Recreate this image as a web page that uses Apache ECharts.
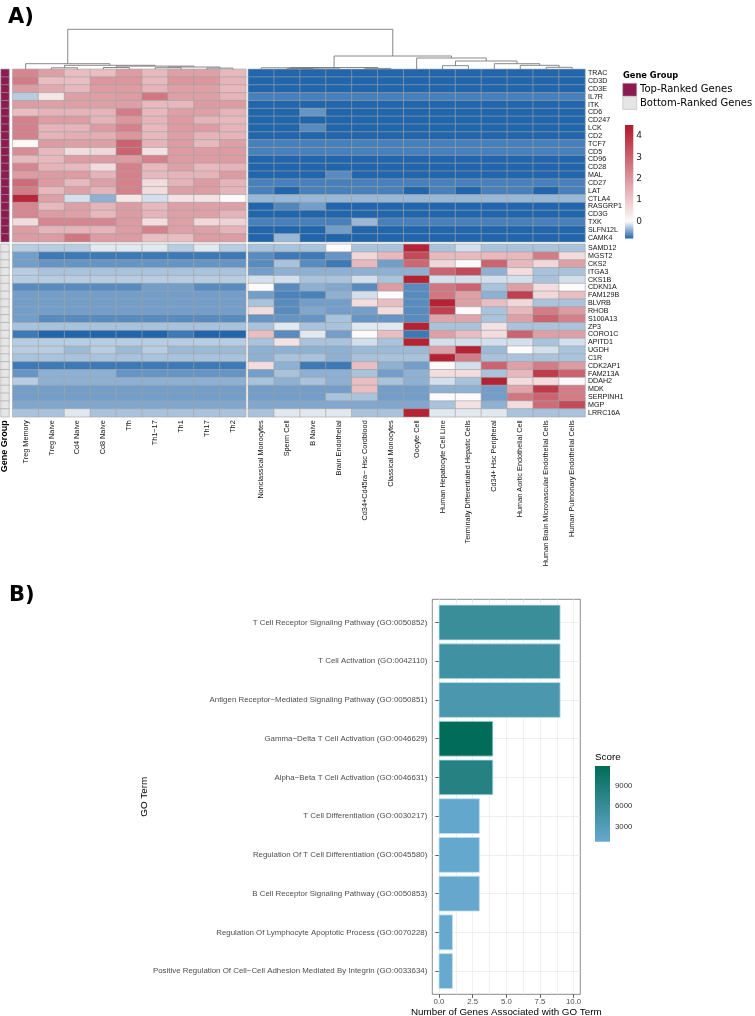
<!DOCTYPE html>
<html><head><meta charset="utf-8">
<script src="https://cdn.jsdelivr.net/npm/echarts@6/dist/echarts.min.js"></script>
<style>html,body{margin:0;padding:0;background:#fff}#c{width:755px;height:1016px}</style>
</head><body><div id="c"></div>
<script>
// ---------------- DATA ----------------
const tCellColumns = ['Treg Memory','Treg Naive','Cd4 Naive','Cd8 Naive','Tfh','Th1\u221217','Th1','Th17','Th2'];
const otherColumns = ['Nonclassical Monocytes','Sperm Cell','B Naive','Brain Endothelial','Cd34+Cd45ra\u2212 Hsc Cordblood','Classical Monocytes','Oocyte Cell','Human Hepatocyte Cell Line','Terminally Differentiated Hepatic Cells','Cd34+ Hsc Peripheral','Human Aortic Endothelial Cell','Human Brain Microvascular Endothelial Cells','Human Pulmonary Endothelial Cells'];
const topGenes = ['TRAC','CD3D','CD3E','IL7R','ITK','CD6','CD247','LCK','CD2','TCF7','CD5','CD96','CD28','MAL','CD27','LAT','CTLA4','RASGRP1','CD3G','TXK','SLFN12L','CAMK4'];
const bottomGenes = ['SAMD12','MGST2','CKS2','ITGA3','CKS1B','CDKN1A','FAM129B','BLVRB','RHOB','S100A13','ZP3','CORO1C','APITD1','UGDH','C1R','CDK2AP1','FAM213A','DDAH2','MDK','SERPINH1','MGP','LRRC16A'];
const geneGroups = ['Top-Ranked Genes','Bottom-Ranked Genes'];

// top genes x T-cell columns
const topLeft = [
 [2.3,1.8,1.2,1.2,1.9,1.3,1.8,1.8,1.3],
 [2.5,1.2,1.2,2.0,2.0,1.3,2.0,2.0,1.4],
 [1.9,1.6,1.3,1.9,1.9,1.4,1.8,1.8,1.3],
 [-0.25,0.4,1.8,1.8,1.9,2.6,1.8,1.8,1.4],
 [1.9,1.8,1.8,1.8,1.8,1.3,1.3,1.9,1.9],
 [1.2,1.4,1.4,1.4,2.5,1.3,1.8,1.8,1.4],
 [2.4,1.9,1.9,1.4,2.0,1.4,1.9,1.4,1.3],
 [2.4,1.4,1.4,1.9,2.4,1.3,1.9,1.9,1.4],
 [2.4,1.4,1.5,1.5,2.0,1.3,1.8,1.4,1.4],
 [0.05,1.9,1.8,1.8,3.0,1.4,1.9,1.3,1.8],
 [2.2,1.3,0.6,0.7,3.0,0.5,1.9,1.9,1.9],
 [1.3,1.3,1.9,1.9,1.9,2.4,1.9,1.9,1.9],
 [2.3,1.4,1.3,0.6,2.4,1.3,1.8,1.3,1.4],
 [1.9,1.9,1.9,1.4,2.4,1.3,1.4,1.4,1.9],
 [2.8,1.9,1.3,1.8,2.4,0.6,1.4,1.9,1.4],
 [2.5,1.3,1.8,1.4,2.4,0.6,1.8,1.9,1.4],
 [4.2,1.8,-0.15,-0.4,0.4,-0.15,0.5,0.5,0.0],
 [2.3,1.3,1.8,1.4,1.9,1.3,1.8,1.8,1.8],
 [2.3,1.9,1.8,1.3,1.9,1.4,1.8,1.8,1.4],
 [0.6,2.3,2.3,2.3,1.9,0.6,1.8,0.7,0.8],
 [1.9,1.4,1.4,1.4,1.9,2.4,1.8,1.8,1.4],
 [1.9,1.9,2.6,1.9,1.9,1.2,1.2,1.9,1.9]
];
// top genes x other columns
const topRight = [
 [-0.8,-0.8,-0.8,-0.8,-0.8,-0.8,-0.8,-0.8,-0.8,-0.8,-0.8,-0.8,-0.8],
 [-0.8,-0.8,-0.8,-0.8,-0.8,-0.8,-0.8,-0.8,-0.8,-0.8,-0.8,-0.8,-0.8],
 [-0.8,-0.8,-0.8,-0.8,-0.8,-0.8,-0.8,-0.8,-0.8,-0.8,-0.8,-0.8,-0.8],
 [-0.66,-0.66,-0.66,-0.66,-0.66,-0.66,-0.66,-0.66,-0.66,-0.66,-0.66,-0.66,-0.66],
 [-0.8,-0.8,-0.8,-0.8,-0.8,-0.8,-0.8,-0.8,-0.8,-0.8,-0.8,-0.8,-0.8],
 [-0.8,-0.8,-0.55,-0.8,-0.8,-0.8,-0.8,-0.8,-0.8,-0.8,-0.8,-0.8,-0.8],
 [-0.8,-0.8,-0.8,-0.8,-0.8,-0.8,-0.8,-0.8,-0.8,-0.8,-0.8,-0.8,-0.8],
 [-0.8,-0.8,-0.6,-0.8,-0.8,-0.8,-0.8,-0.8,-0.8,-0.8,-0.8,-0.8,-0.8],
 [-0.8,-0.8,-0.8,-0.8,-0.8,-0.8,-0.8,-0.8,-0.8,-0.8,-0.8,-0.8,-0.8],
 [-0.66,-0.66,-0.66,-0.66,-0.66,-0.66,-0.66,-0.66,-0.66,-0.66,-0.66,-0.66,-0.66],
 [-0.66,-0.66,-0.66,-0.66,-0.66,-0.66,-0.66,-0.66,-0.66,-0.66,-0.66,-0.66,-0.66],
 [-0.8,-0.8,-0.8,-0.8,-0.8,-0.8,-0.8,-0.8,-0.8,-0.8,-0.8,-0.8,-0.8],
 [-0.8,-0.8,-0.8,-0.8,-0.8,-0.8,-0.8,-0.8,-0.8,-0.8,-0.8,-0.8,-0.8],
 [-0.8,-0.8,-0.8,-0.6,-0.8,-0.8,-0.8,-0.8,-0.8,-0.8,-0.8,-0.8,-0.8],
 [-0.66,-0.66,-0.66,-0.66,-0.66,-0.66,-0.66,-0.66,-0.66,-0.66,-0.66,-0.66,-0.66],
 [-0.66,-0.8,-0.66,-0.66,-0.66,-0.66,-0.8,-0.66,-0.8,-0.66,-0.66,-0.8,-0.66],
 [-0.36,-0.36,-0.36,-0.36,-0.36,-0.36,-0.36,-0.36,-0.36,-0.36,-0.36,-0.36,-0.36],
 [-0.8,-0.62,-0.5,-0.8,-0.8,-0.8,-0.8,-0.8,-0.8,-0.8,-0.8,-0.8,-0.8],
 [-0.8,-0.8,-0.8,-0.8,-0.8,-0.8,-0.8,-0.8,-0.8,-0.8,-0.8,-0.8,-0.8],
 [-0.66,-0.66,-0.66,-0.66,-0.36,-0.66,-0.66,-0.66,-0.66,-0.66,-0.66,-0.66,-0.66],
 [-0.8,-0.8,-0.8,-0.5,-0.8,-0.8,-0.8,-0.8,-0.8,-0.8,-0.8,-0.8,-0.8],
 [-0.8,-0.36,-0.8,-0.8,-0.8,-0.8,-0.8,-0.8,-0.8,-0.8,-0.8,-0.8,-0.8]
];
// bottom genes x T-cell columns
const bottomLeft = [
 [-0.25,-0.25,-0.25,-0.1,-0.1,-0.1,-0.25,-0.1,-0.25],
 [-0.5,-0.7,-0.7,-0.7,-0.7,-0.7,-0.7,-0.7,-0.7],
 [-0.5,-0.55,-0.55,-0.55,-0.55,-0.55,-0.55,-0.55,-0.55],
 [-0.25,-0.3,-0.3,-0.3,-0.3,-0.3,-0.3,-0.3,-0.3],
 [-0.25,-0.25,-0.25,-0.25,-0.25,-0.25,-0.25,-0.25,-0.25],
 [-0.6,-0.6,-0.6,-0.6,-0.6,-0.5,-0.5,-0.6,-0.6],
 [-0.5,-0.5,-0.5,-0.5,-0.5,-0.5,-0.5,-0.5,-0.5],
 [-0.5,-0.5,-0.5,-0.5,-0.5,-0.5,-0.5,-0.5,-0.5],
 [-0.5,-0.5,-0.5,-0.5,-0.5,-0.5,-0.5,-0.5,-0.5],
 [-0.5,-0.6,-0.6,-0.6,-0.6,-0.6,-0.6,-0.6,-0.6],
 [-0.3,-0.3,-0.3,-0.3,-0.3,-0.3,-0.3,-0.3,-0.3],
 [-0.7,-0.8,-0.8,-0.8,-0.8,-0.8,-0.7,-0.8,-0.8],
 [-0.25,-0.25,-0.25,-0.25,-0.25,-0.25,-0.25,-0.25,-0.25],
 [-0.25,-0.25,-0.35,-0.25,-0.35,-0.25,-0.35,-0.35,-0.35],
 [-0.3,-0.3,-0.3,-0.3,-0.3,-0.3,-0.3,-0.3,-0.3],
 [-0.7,-0.7,-0.7,-0.7,-0.7,-0.7,-0.7,-0.7,-0.7],
 [-0.55,-0.4,-0.4,-0.4,-0.55,-0.55,-0.55,-0.55,-0.55],
 [-0.25,-0.4,-0.4,-0.4,-0.4,-0.4,-0.4,-0.4,-0.4],
 [-0.5,-0.5,-0.5,-0.5,-0.5,-0.5,-0.5,-0.5,-0.5],
 [-0.5,-0.5,-0.5,-0.5,-0.5,-0.5,-0.5,-0.5,-0.5],
 [-0.45,-0.45,-0.45,-0.45,-0.45,-0.45,-0.45,-0.45,-0.45],
 [-0.3,-0.3,-0.1,-0.3,-0.3,-0.3,-0.3,-0.3,-0.3]
];
// bottom genes x other columns
const bottomRight = [
 [-0.3,-0.3,-0.3,0.0,-0.3,-0.3,4.3,-0.3,-0.15,-0.3,-0.3,-0.3,-0.3],
 [-0.6,-0.7,-0.7,-0.55,0.7,1.3,3.5,1.3,1.3,1.3,1.3,2.5,0.6],
 [-0.6,-0.3,-0.6,-0.7,1.3,-0.5,2.9,0.7,0.0,3.0,1.3,0.7,1.8],
 [-0.5,-0.4,-0.4,-0.4,-0.4,-0.4,-0.4,3.0,3.5,-0.4,0.6,-0.3,-0.3],
 [-0.15,-0.15,-0.3,-0.3,-0.15,-0.3,4.3,-0.15,-0.15,-0.15,-0.15,-0.3,-0.15],
 [0.0,-0.6,-0.4,-0.45,-0.6,1.9,-0.6,2.6,3.0,-0.3,1.8,0.6,0.0],
 [-0.5,-0.65,-0.65,-0.4,-0.15,0.0,-0.6,2.6,1.8,-0.4,3.7,0.7,1.2],
 [-0.3,-0.6,-0.5,-0.5,0.6,1.2,-0.6,4.3,1.8,1.2,0.7,-0.3,-0.3],
 [0.6,-0.6,-0.45,-0.5,-0.5,0.6,-0.6,3.7,0.0,-0.3,1.3,2.5,1.9],
 [-0.55,-0.55,-0.55,-0.3,-0.55,-0.55,-0.6,1.7,1.7,-0.3,1.8,3.0,2.4],
 [-0.3,-0.1,-0.3,-0.3,-0.1,-0.1,4.3,-0.3,-0.3,0.5,-0.3,-0.3,-0.3],
 [1.2,-0.6,-0.1,-0.5,0.0,1.2,-0.7,1.8,1.2,0.6,3.0,1.8,1.8],
 [-0.3,0.5,-0.3,-0.3,-0.15,-0.3,4.3,-0.15,-0.15,-0.15,-0.15,-0.3,-0.15],
 [-0.4,-0.4,-0.4,-0.4,-0.35,-0.35,-0.35,1.8,4.3,-0.35,0.0,-0.15,-0.3],
 [-0.4,-0.3,-0.3,-0.4,-0.3,-0.3,-0.3,4.3,2.5,-0.3,-0.3,-0.3,-0.3],
 [0.6,-0.4,-0.7,-0.7,1.2,-0.4,-0.5,0.0,-0.15,3.0,1.8,2.5,1.9],
 [-0.5,-0.3,-0.4,-0.4,-0.3,-0.5,-0.4,0.6,0.6,-0.3,1.3,3.8,3.0],
 [-0.3,-0.4,-0.3,-0.4,1.2,-0.3,-0.4,-0.15,-0.3,4.3,0.6,0.6,0.0],
 [-0.5,-0.5,-0.5,-0.5,1.2,-0.5,-0.5,-0.4,-0.4,-0.5,1.7,3.8,2.5],
 [-0.5,-0.5,-0.5,-0.3,-0.3,-0.5,-0.5,0.0,0.0,-0.5,2.6,3.0,2.5],
 [-0.45,-0.45,-0.45,-0.45,-0.45,-0.45,-0.45,-0.3,0.5,-0.4,0.6,2.8,3.5],
 [-0.3,-0.1,-0.1,-0.1,-0.3,-0.3,4.3,-0.1,-0.1,-0.1,-0.3,-0.3,-0.3]
];
const heatTicks = [0,1,2,3,4];
const heatMin = -0.8, heatMax = 4.5;

// column dendrogram (leaf index 0..21 = tCellColumns then otherColumns; node n>=22 = merge n-22): [a, b, height]
const colMerges = [
 [1,2,1.5],[7,8,1.2],[5,6,1.6],[24,23,2.3],[3,4,1.8],[26,25,3.2],[22,27,4.0],[0,28,5.6],
 [10,11,0.8],[30,12,1.2],[9,31,1.5],[13,14,0.9],[32,33,1.8],[16,17,3.6],[20,21,2.0],
 [19,36,4.0],[18,37,5.6],[35,38,8.3],[15,39,11.3],[34,40,13.3],[29,41,40]
];

// Panel B
const goTerms = [
 'T Cell Receptor Signaling Pathway (GO:0050852)',
 'T Cell Activation (GO:0042110)',
 'Antigen Receptor\u2212Mediated Signaling Pathway (GO:0050851)',
 'Gamma\u2212Delta T Cell Activation (GO:0046629)',
 'Alpha\u2212Beta T Cell Activation (GO:0046631)',
 'T Cell Differentiation (GO:0030217)',
 'Regulation Of T Cell Differentiation (GO:0045580)',
 'B Cell Receptor Signaling Pathway (GO:0050853)',
 'Regulation Of Lymphocyte Apoptotic Process (GO:0070228)',
 'Positive Regulation Of Cell\u2212Cell Adhesion Mediated By Integrin (GO:0033634)'
];
const geneCounts = [9,9,9,4,4,3,3,3,1,1];
const goScores = [5800,5000,3900,11900,8000,1100,1000,950,900,800];
const countTicks = [0,2.5,5,7.5,10];
const countMinorGrid = [0,1.25,2.5,3.75,5,6.25,7.5,8.75,10];
const scoreTicks = [3000,6000,9000];
const scoreMin = 800, scoreMax = 11900;

// ---------------- LAYOUT / STYLE ----------------
const CELL = 25.9, ROWH = 7.84;
const X_LEFT = 12.7, X_RIGHT = 248.3, Y_TOP = 69.3, Y_BOT = 244.3;
const BLUE = [33,102,172], WHITE = [252,250,250], RED = [178,24,43];
const GROUP_COLORS = ['#8C1B52','#E5E5E5'];
const SCORE_COLORS = ['#67a9cf','#016c59'];
const FONT = 'Liberation Sans';

function mix(a,b,t){return 'rgb('+a.map((v,i)=>Math.round(v+(b[i]-v)*t)).join(',')+')';}
function heatColor(v){
  if (v < 0) return mix(WHITE, BLUE, Math.min(1, -v/ -heatMin));
  return mix(WHITE, RED, Math.min(1, v/heatMax));
}
const heatStops = [];
for (let k = 0; k <= 53; k++) heatStops.push(heatColor(heatMin + k*(heatMax-heatMin)/53));

function cells(mat){const d=[];mat.forEach((row,r)=>row.forEach((v,c)=>d.push([c,r,v])));return d;}

// dendrogram geometry from merges (via axis units = cell widths)
const gapUnits = (X_RIGHT - X_LEFT)/CELL - tCellColumns.length;
const nLeaves = tCellColumns.length + otherColumns.length;
const nodeX = [], nodeH = [];
for (let i=0;i<nLeaves;i++){ nodeX.push(i < tCellColumns.length ? i+0.5 : i+0.5+gapUnits); nodeH.push(0); }
const dendroData = colMerges.map(([a,b,h])=>{
  const item = [nodeX[a], nodeH[a], nodeX[b], nodeH[b], h];
  nodeX.push((nodeX[a]+nodeX[b])/2); nodeH.push(h);
  return item;
});
const dendroMaxUnits = nLeaves + gapUnits;

const hmW = n => n*CELL, hmH = n => n*ROWH;
const G = (o)=>Object.assign({outerBoundsMode:'none', containLabel:false}, o);

const grids = [
  G({left:X_LEFT, top:Y_TOP, width:hmW(9), height:hmH(22)}),          //0 TL
  G({left:X_RIGHT, top:Y_TOP, width:hmW(13), height:hmH(22)}),        //1 TR
  G({left:X_LEFT, top:Y_BOT, width:hmW(9), height:hmH(22)}),          //2 BL
  G({left:X_RIGHT, top:Y_BOT, width:hmW(13), height:hmH(22)}),        //3 BR
  G({left:1, top:Y_TOP, width:8, height:hmH(22)}),                    //4 ann top
  G({left:1, top:Y_BOT, width:8, height:hmH(22)}),                    //5 ann bottom
  G({left:X_LEFT, top:29.3, width:X_RIGHT+hmW(13)-X_LEFT, height:40}),//6 dendro
  G({left:625, top:125.1, width:8.3, height:113.4}),                  //7 heat legend
  G({left:432.3, top:599.3, width:148, height:395, show:true, borderColor:'#6f6f6f', borderWidth:0.8, backgroundColor:'#fff'}), //8 bars
  G({left:595, top:766, width:15, height:75.7})                       //9 score legend
];

const hid = {show:false};
const LBL = 7.3;
const catX = (gi, data, showLabels) => ({type:'category', gridIndex:gi, data:data, position:'bottom',
  axisLine:hid, axisTick:hid, splitLine:hid,
  axisLabel:{show:showLabels, interval:0, rotate:90, fontSize:LBL, color:'#111', margin:3.5, fontFamily:FONT}});
const catY = (gi, data, showLabels) => ({type:'category', gridIndex:gi, data:data, inverse:true, position:'right',
  axisLine:hid, axisTick:hid, splitLine:hid,
  axisLabel:{show:showLabels, interval:0, fontSize:7.1, color:'#111', margin:3, fontFamily:FONT}});

const xAxes = [
  catX(0, tCellColumns, false), catX(1, otherColumns, false),
  catX(2, tCellColumns, true), catX(3, otherColumns, true),
  catX(4, ['Gene Group'], false),
  Object.assign(catX(5, ['Gene Group'], true), {axisLabel:{show:true, rotate:90, fontSize:9, fontWeight:'bold', color:'#000', margin:3.5, fontFamily:FONT}}),
  {type:'value', gridIndex:6, min:0, max:dendroMaxUnits, show:false},
  {type:'value', gridIndex:7, min:0, max:1, show:false},
  {type:'value', gridIndex:8, min:-0.5, max:10.5, position:'bottom',
   axisLine:hid, axisTick:{show:false, customValues:countMinorGrid},
   axisLabel:{show:false}, splitLine:{show:true, lineStyle:{color:'#ebebeb', width:0.8}},
   name:'Number of Genes Associated with GO Term', nameLocation:'middle', nameGap:13,
   nameTextStyle:{fontSize:9.8, color:'#000', fontFamily:FONT}},
  {type:'value', gridIndex:8, min:-0.5, max:10.5, position:'bottom',
   axisLine:hid, splitLine:hid,
   axisTick:{show:true, customValues:countTicks, length:3.5, lineStyle:{color:'#333', width:0.8}},
   axisLabel:{show:true, customValues:countTicks, formatter:v=>v.toFixed(1), fontSize:7.8, color:'#4d4d4d', margin:4, fontFamily:FONT}},
  {type:'value', gridIndex:9, min:0, max:1, show:false}
];
const yAxes = [
  catY(0, topGenes, false), catY(1, topGenes, true),
  catY(2, bottomGenes, false), catY(3, bottomGenes, true),
  catY(4, topGenes, false), catY(5, bottomGenes, false),
  {type:'value', gridIndex:6, min:0, max:40, show:false},
  {type:'value', gridIndex:7, min:heatMin, max:heatMax, position:'right', axisLine:hid, axisTick:hid, splitLine:hid,
   axisLabel:{customValues:heatTicks, fontSize:9, color:'#222', margin:3, fontFamily:'DejaVu Sans'}},
  {type:'value', gridIndex:8, min:-0.6, max:9.6, inverse:true, position:'left', axisLine:hid,
   axisTick:{show:true, customValues:goTerms.map((t,i)=>i), length:3.5, lineStyle:{color:'#333', width:0.8}},
   axisLabel:{customValues:goTerms.map((t,i)=>i), formatter:v=>goTerms[Math.round(v)], fontSize:7.9, color:'#4d4d4d', margin:5, fontFamily:FONT},
   splitLine:{show:true, lineStyle:{color:'#ebebeb', width:0.8}},
   name:'GO Term', nameLocation:'middle', nameGap:281, nameRotate:90,
   nameTextStyle:{fontSize:9.8, color:'#000', fontFamily:FONT}},
  {type:'value', gridIndex:9, min:scoreMin, max:scoreMax, position:'right', axisLine:hid, splitLine:hid,
   axisTick:{show:true, inside:true, length:3, customValues:scoreTicks, lineStyle:{color:'#fff', width:1}},
   axisLabel:{customValues:scoreTicks, formatter:v=>String(v), fontSize:7.8, color:'#333', margin:5, fontFamily:FONT}},
  {type:'value', gridIndex:9, min:scoreMin, max:scoreMax, position:'left', axisLine:hid, splitLine:hid,
   axisTick:{show:true, inside:true, length:3, customValues:scoreTicks, lineStyle:{color:'#fff', width:1}},
   axisLabel:{show:false}}
];

const hmStyle = {borderColor:'#a3a3a3', borderWidth:0.6};
const hm = (i) => ({type:'heatmap', xAxisIndex:i, yAxisIndex:i, data:cells([topLeft,topRight,bottomLeft,bottomRight][i]),
  itemStyle:hmStyle, emphasis:{disabled:true}, progressive:0, silent:true});

function gradientBar(colorsTopToBottom, offsets){
  return function(params, api){
    const a = api.coord([0, api.value(1)]), b = api.coord([1, api.value(0)]);
    return {type:'rect', shape:{x:a[0], y:a[1], width:b[0]-a[0], height:b[1]-a[1]},
      style:{fill:new echarts.graphic.LinearGradient(0,0,0,1, colorsTopToBottom.map((c,i)=>({offset:offsets[i], color:c})))}};
  };
}

const series = [
  hm(0), hm(1), hm(2), hm(3),
  {type:'heatmap', xAxisIndex:4, yAxisIndex:4, data:topGenes.map((g,r)=>[0,r,1]), itemStyle:{color:GROUP_COLORS[0], borderColor:'#a3a3a3', borderWidth:0.6}, emphasis:{disabled:true}, silent:true},
  {type:'heatmap', xAxisIndex:5, yAxisIndex:5, data:bottomGenes.map((g,r)=>[0,r,2]), itemStyle:{color:GROUP_COLORS[1], borderColor:'#a3a3a3', borderWidth:0.6}, emphasis:{disabled:true}, silent:true},
  {type:'custom', xAxisIndex:6, yAxisIndex:6, data:dendroData, encode:{x:[0,2], y:[1,3,4]}, silent:true,
   renderItem:function(params, api){
     const p1 = api.coord([api.value(0), api.value(1)]), p2 = api.coord([api.value(0), api.value(4)]);
     const p3 = api.coord([api.value(2), api.value(4)]), p4 = api.coord([api.value(2), api.value(3)]);
     return {type:'polyline', shape:{points:[p1,p2,p3,p4]}, style:{stroke:'#7a7a7a', lineWidth:0.9, fill:null}};
   }},
  {type:'custom', xAxisIndex:7, yAxisIndex:7, data:[[heatMin, heatMax]], silent:true,
   renderItem:gradientBar([heatColor(heatMax), heatColor(0), heatColor(heatMin)], [0, heatMax/(heatMax-heatMin), 1])},
  {type:'custom', xAxisIndex:8, yAxisIndex:8, data:goTerms.map((t,i)=>[geneCounts[i], i, goScores[i]]), encode:{x:0, y:1}, silent:true,
   renderItem:function(params, api){
     const i = api.value(1), n = api.value(0);
     const a = api.coord([0, i-0.45]), b = api.coord([n, i+0.45]);
     return {type:'rect', shape:{x:a[0], y:Math.min(a[1],b[1]), width:b[0]-a[0], height:Math.abs(b[1]-a[1])},
       style:{fill:api.visual('color'), stroke:'#bfe0ee', lineWidth:0.8}};
   }},
  {type:'custom', xAxisIndex:10, yAxisIndex:9, data:[[scoreMin, scoreMax]], silent:true,
   renderItem:gradientBar([SCORE_COLORS[1], SCORE_COLORS[0]], [0,1])}
];

const txt = (x,y,text,size,weight,family,va) => ({type:'text', x:x, y:y, silent:true,
  style:{text:text, fontSize:size, fontWeight:weight||'normal', fontFamily:family||FONT, fill:'#000', verticalAlign:va||'middle', align:'left'}});

const option = {
  animation:false,
  textStyle:{fontFamily:FONT},
  grid:grids, xAxis:xAxes, yAxis:yAxes, series:series,
  visualMap:[
    {type:'continuous', show:false, min:heatMin, max:heatMax, dimension:2, seriesIndex:[0,1,2,3], inRange:{color:heatStops}},
    {type:'continuous', show:false, min:scoreMin, max:scoreMax, dimension:2, seriesIndex:[8], inRange:{color:SCORE_COLORS}}
  ],
  graphic:[
    txt(8, 17.5, 'A)', 21, 'bold', 'DejaVu Sans'),
    txt(9, 596, 'B)', 21, 'bold', 'DejaVu Sans'),
    txt(623, 76, 'Gene Group', 8.3, 'bold', 'DejaVu Sans'),
    {type:'rect', shape:{x:622.7, y:83.3, width:14, height:12.8}, style:{fill:GROUP_COLORS[0], stroke:'#b0b0b0', lineWidth:0.5}, silent:true},
    {type:'rect', shape:{x:622.7, y:96.6, width:14, height:12.8}, style:{fill:GROUP_COLORS[1], stroke:'#b0b0b0', lineWidth:0.5}, silent:true},
    txt(640, 89.6, geneGroups[0], 10, 'normal', 'DejaVu Sans'),
    txt(640, 103, geneGroups[1], 10, 'normal', 'DejaVu Sans'),
    txt(595, 757, 'Score', 9.8, 'normal', FONT)
  ]
};
const chart = echarts.init(document.getElementById('c'), null, {renderer:'canvas'});
chart.setOption(option);
</script></body></html>
